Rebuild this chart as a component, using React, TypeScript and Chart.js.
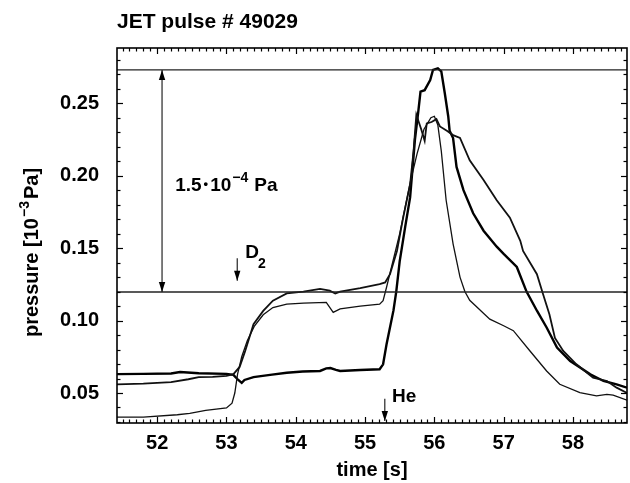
import React, { useEffect, useRef } from 'react';
import { Chart, registerables } from 'chart.js';

Chart.register(...registerables);

const FONT = "'Liberation Sans', Arial, Helvetica, sans-serif";

// axis ranges / ticks
const X_MIN = 51.42;
const X_MAX = 58.78;
const Y_MIN = 0.0293;
const Y_MAX = 0.2881;
const X_STEP = 1;
const Y_STEP = 0.05;

// gauge trace A (thick, peaks at the upper reference level)
const timeA = [51.42, 51.8, 52.2, 52.33, 52.6, 53.0, 53.1, 53.17, 53.22, 53.26, 53.39, 53.63, 53.87, 54.1, 54.35, 54.44, 54.5, 54.58, 54.64, 54.93, 55.21, 55.26, 55.31, 55.41, 55.45, 55.5, 55.58, 55.65, 55.72, 55.77, 55.8, 55.86, 55.94, 55.98, 56.05, 56.1, 56.15, 56.2, 56.22, 56.27, 56.32, 56.42, 56.56, 56.71, 56.9, 57.0, 57.19, 57.33, 57.48, 57.62, 57.77, 57.96, 58.25, 58.44, 58.63, 58.78];
const pressA = [0.0630, 0.0632, 0.0635, 0.0645, 0.0636, 0.0632, 0.0625, 0.0590, 0.0570, 0.0590, 0.0610, 0.0625, 0.0640, 0.0648, 0.0652, 0.0670, 0.0672, 0.0660, 0.0652, 0.0659, 0.0664, 0.0698, 0.0837, 0.1070, 0.1200, 0.1410, 0.1650, 0.1850, 0.2250, 0.2450, 0.2580, 0.2590, 0.2660, 0.2730, 0.2740, 0.2720, 0.2570, 0.2410, 0.2310, 0.2260, 0.2060, 0.1900, 0.1740, 0.1620, 0.1510, 0.1460, 0.1370, 0.1200, 0.1068, 0.0952, 0.0813, 0.0721, 0.0629, 0.0583, 0.0560, 0.0537];

// gauge trace B (medium)
const timeB = [51.42, 51.8, 52.2, 52.45, 52.6, 52.8, 53.0, 53.1, 53.19, 53.27, 53.39, 53.53, 53.67, 53.87, 54.11, 54.35, 54.49, 54.57, 54.64, 54.93, 55.21, 55.29, 55.36, 55.46, 55.55, 55.65, 55.7, 55.74, 55.81, 55.86, 55.89, 55.96, 56.03, 56.08, 56.18, 56.27, 56.37, 56.51, 56.71, 56.9, 57.09, 57.24, 57.28, 57.48, 57.57, 57.66, 57.74, 57.86, 58.05, 58.29, 58.49, 58.63, 58.78];
const pressB = [0.0560, 0.0565, 0.0575, 0.0595, 0.0610, 0.0612, 0.0618, 0.0630, 0.0680, 0.0790, 0.0975, 0.1067, 0.1137, 0.1187, 0.1200, 0.1218, 0.1206, 0.1187, 0.1200, 0.1224, 0.1252, 0.1263, 0.1320, 0.1480, 0.1710, 0.1940, 0.2170, 0.2420, 0.2320, 0.2240, 0.2360, 0.2370, 0.2390, 0.2340, 0.2310, 0.2280, 0.2260, 0.2106, 0.1970, 0.1830, 0.1710, 0.1550, 0.1480, 0.1320, 0.1180, 0.1044, 0.0880, 0.0790, 0.0698, 0.0606, 0.0583, 0.0537, 0.0500];

// gauge trace C (thin)
const timeC = [51.42, 51.8, 52.29, 52.47, 52.7, 53.0, 53.08, 53.12, 53.16, 53.22, 53.3, 53.4, 53.53, 53.67, 53.87, 54.11, 54.44, 54.54, 54.64, 54.93, 55.21, 55.26, 55.31, 55.38, 55.5, 55.65, 55.75, 55.85, 55.95, 56.0, 56.05, 56.1, 56.17, 56.27, 56.37, 56.44, 56.51, 56.8, 57.0, 57.14, 57.38, 57.62, 57.81, 58.1, 58.34, 58.49, 58.58, 58.78];
const pressC = [0.0334, 0.0334, 0.0350, 0.0360, 0.0380, 0.0397, 0.0430, 0.0500, 0.0630, 0.0750, 0.0860, 0.0960, 0.1040, 0.1090, 0.1113, 0.1120, 0.1125, 0.1056, 0.1080, 0.1100, 0.1113, 0.1137, 0.1230, 0.1367, 0.1600, 0.1950, 0.2150, 0.2320, 0.2400, 0.2410, 0.2350, 0.2170, 0.1830, 0.1530, 0.1300, 0.1200, 0.1140, 0.1010, 0.0964, 0.0930, 0.0790, 0.0652, 0.0560, 0.0502, 0.0480, 0.0490, 0.0486, 0.0450];

// horizontal reference levels
const refLevels = [0.2730, 0.1197];

// arrows: x position, start value, end value (head at end), double-headed flag
const arrowX = [52.07, 53.155, 55.285];
const arrowFrom = [0.1197, 0.1430, 0.0460];
const arrowTo = [0.2730, 0.1275, 0.0306];
const arrowDouble = [true, false, false];

// annotation anchors (data coordinates)
const noteDeltaPos = [52.26, 0.1895];
const noteD2Pos = [53.27, 0.1430];
const noteHePos = [55.39, 0.0435];

const decorPlugin = {
  id: 'decor',
  afterDraw(chart: any) {
    const { ctx, chartArea: a, scales } = chart;
    const x = scales.x;
    const y = scales.y;
    ctx.save();
    ctx.strokeStyle = '#000';
    ctx.fillStyle = '#000';

    // frame
    ctx.lineWidth = 1.6;
    ctx.strokeRect(a.left, a.top, a.right - a.left, a.bottom - a.top);

    // inward ticks
    ctx.lineWidth = 1.2;
    const seg = (x1: number, y1: number, x2: number, y2: number) => {
      ctx.beginPath();
      ctx.moveTo(x1, y1);
      ctx.lineTo(x2, y2);
      ctx.stroke();
    };
    for (let i = Math.ceil(X_MIN * 10); i <= Math.floor(X_MAX * 10); i++) {
      const px = Math.round(x.getPixelForValue(i / 10)) + 0.5;
      const len = i % 10 === 0 ? 6 : 3.5;
      seg(px, a.bottom, px, a.bottom - len);
      seg(px, a.top, px, a.top + len);
    }
    for (let i = Math.ceil(Y_MIN * 100); i <= Math.floor(Y_MAX * 100); i++) {
      const py = Math.round(y.getPixelForValue(i / 100)) + 0.5;
      const len = i % 5 === 0 ? 6 : 3.5;
      seg(a.left, py, a.left + len, py);
      seg(a.right, py, a.right - len, py);
    }

    // arrow heads
    const head = (px: number, py: number, dir: number) => {
      ctx.beginPath();
      ctx.moveTo(px, py);
      ctx.lineTo(px - 3.2, py - dir * 10);
      ctx.lineTo(px + 3.2, py - dir * 10);
      ctx.closePath();
      ctx.fill();
    };
    arrowX.forEach((ax, i) => {
      const px = x.getPixelForValue(ax);
      const pTo = y.getPixelForValue(arrowTo[i]);
      const pFrom = y.getPixelForValue(arrowFrom[i]);
      head(px, pTo, pTo > pFrom ? 1 : -1);
      if (arrowDouble[i]) head(px, pFrom, pFrom > pTo ? 1 : -1);
    });

    // title
    ctx.textBaseline = 'alphabetic';
    ctx.textAlign = 'left';
    ctx.font = `bold 21px ${FONT}`;
    ctx.fillText('JET pulse # 49029', a.left, 28);

    // y-axis title with superscript
    ctx.save();
    ctx.translate(38, 337);
    ctx.rotate(-Math.PI / 2);
    let cx = 0;
    ctx.font = `bold 20px ${FONT}`;
    ctx.fillText('pressure [10', cx, 0);
    cx += ctx.measureText('pressure [10').width + 1;
    ctx.font = `bold 14px ${FONT}`;
    ctx.fillText('\u22123', cx, -9);
    cx += ctx.measureText('\u22123').width + 2;
    ctx.font = `bold 20px ${FONT}`;
    ctx.fillText('Pa]', cx, 0);
    ctx.restore();

    // 1.5·10^-4 Pa annotation
    let tx = x.getPixelForValue(noteDeltaPos[0]);
    const ty = y.getPixelForValue(noteDeltaPos[1]);
    ctx.font = `bold 19px ${FONT}`;
    ctx.fillText('1.5', tx, ty);
    tx += ctx.measureText('1.5').width + 2;
    ctx.font = `bold 13px ${FONT}`;
    ctx.fillText('\u2022', tx, ty - 3);
    tx += ctx.measureText('\u2022').width + 2;
    ctx.font = `bold 19px ${FONT}`;
    ctx.fillText('10', tx, ty);
    tx += ctx.measureText('10').width + 1;
    ctx.font = `bold 14px ${FONT}`;
    ctx.fillText('\u22124', tx, ty - 9);
    tx += ctx.measureText('\u22124').width + 6;
    ctx.font = `bold 19px ${FONT}`;
    ctx.fillText('Pa', tx, ty);

    // D2
    const dx = x.getPixelForValue(noteD2Pos[0]);
    const dy = y.getPixelForValue(noteD2Pos[1]);
    ctx.font = `bold 19px ${FONT}`;
    ctx.fillText('D', dx, dy);
    const dw = ctx.measureText('D').width;
    ctx.font = `bold 14px ${FONT}`;
    ctx.fillText('2', dx + dw - 1, dy + 10);

    // He
    ctx.font = `bold 19px ${FONT}`;
    ctx.fillText('He', x.getPixelForValue(noteHePos[0]), y.getPixelForValue(noteHePos[1]));

    ctx.restore();
  },
};

function App() {
  const canvasRef = useRef<HTMLCanvasElement | null>(null);

  useEffect(() => {
    if (!canvasRef.current) return;
    Chart.defaults.font.family = FONT;
    const line = (xs: number[], ys: number[]) => xs.map((t, i) => ({ x: t, y: ys[i] }));
    const datasets: any[] = [];
    refLevels.forEach((lv) => {
      datasets.push({
        data: [{ x: X_MIN, y: lv }, { x: X_MAX, y: lv }],
        borderColor: '#222',
        borderWidth: 1.3,
        pointRadius: 0,
      });
    });
    arrowX.forEach((ax, i) => {
      datasets.push({
        data: [{ x: ax, y: arrowFrom[i] }, { x: ax, y: arrowTo[i] }],
        borderColor: '#111',
        borderWidth: 1.1,
        pointRadius: 0,
      });
    });
    datasets.push({ data: line(timeC, pressC), borderColor: '#111', borderWidth: 1.3, pointRadius: 0 });
    datasets.push({ data: line(timeB, pressB), borderColor: '#111', borderWidth: 1.8, pointRadius: 0 });
    datasets.push({ data: line(timeA, pressA), borderColor: '#000', borderWidth: 2.4, pointRadius: 0 });

    const tickFont = { size: 20, weight: 'bold' as const, family: FONT };
    const chart = new Chart(canvasRef.current, {
      type: 'line',
      data: { datasets },
      options: {
        animation: false,
        responsive: true,
        maintainAspectRatio: false,
        layout: { padding: { top: 48, right: 3, left: 0, bottom: 0 } },
        elements: { line: { tension: 0 } },
        plugins: {
          legend: { display: false },
          title: { display: false },
          tooltip: { enabled: false },
        },
        scales: {
          x: {
            type: 'linear',
            min: X_MIN,
            max: X_MAX,
            afterFit: (s: any) => { s.height = 60; },
            grid: { display: false, drawTicks: false },
            border: { display: false },
            ticks: {
              stepSize: X_STEP,
              includeBounds: false,
              autoSkip: false,
              maxRotation: 0,
              padding: 8,
              color: '#000',
              font: tickFont,
              callback: (v: any) => String(Math.round(Number(v))),
            },
            title: {
              display: true,
              text: 'time [s]',
              color: '#000',
              font: { size: 20, weight: 'bold', family: FONT },
              padding: { top: 0, bottom: 1 },
            },
          },
          y: {
            type: 'linear',
            min: Y_MIN,
            max: Y_MAX,
            afterFit: (s: any) => { s.width = 117; },
            grid: { display: false, drawTicks: false },
            border: { display: false },
            ticks: {
              stepSize: Y_STEP,
              includeBounds: false,
              autoSkip: false,
              padding: 18,
              color: '#000',
              font: tickFont,
              callback: (v: any) => Number(v).toFixed(2),
            },
          },
        },
      },
      plugins: [decorPlugin],
    });
    return () => chart.destroy();
  }, []);

  return (
    <div style={{ position: 'absolute', left: 0, top: 0, width: 630, height: 483, background: '#fff' }}>
      <canvas ref={canvasRef} />
    </div>
  );
}

export default App;
